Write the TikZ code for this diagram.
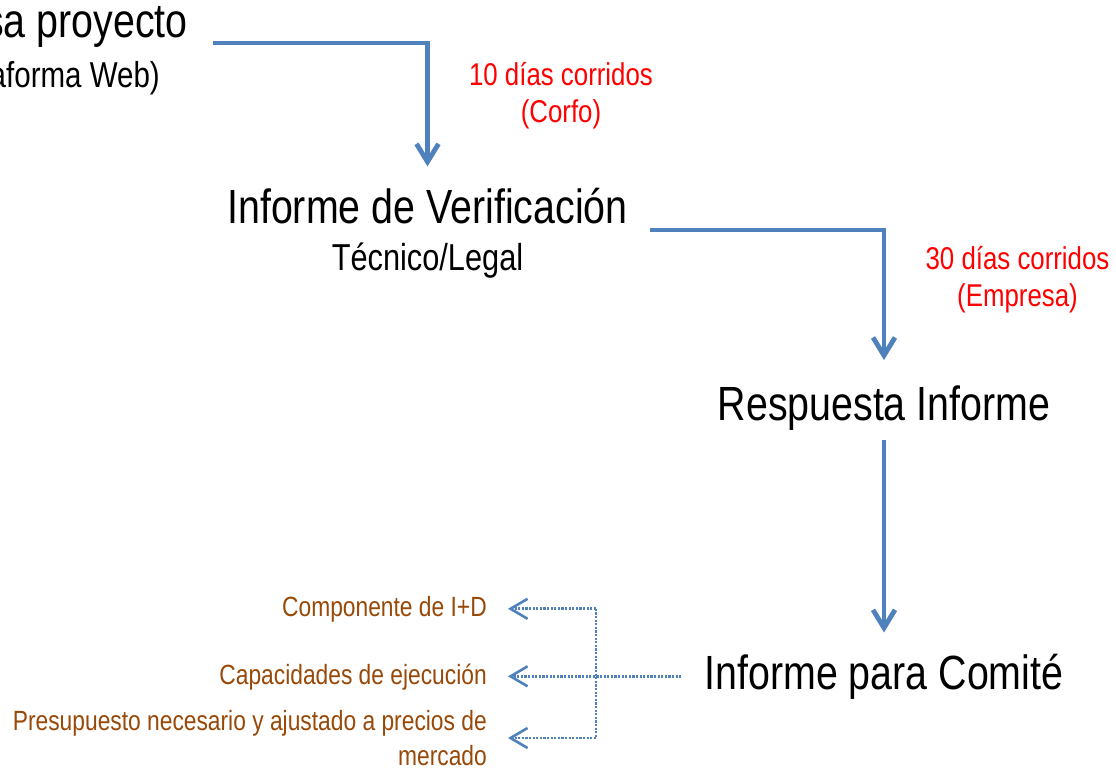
\documentclass[tikz,border=0pt]{standalone}
\usepackage{fontspec}
\setmainfont{Liberation Sans}[FakeStretch=0.82]
\usetikzlibrary{arrows.meta}
\definecolor{lineblue}{HTML}{4F81BD}
\definecolor{txtred}{HTML}{FF0000}
\definecolor{txtbrown}{HTML}{984807}
\begin{document}
\begin{tikzpicture}[x=1pt,y=-1pt,
  bigtxt/.style={font=\fontsize{48}{57}\selectfont, inner sep=0pt},
  midtxt/.style={font=\fontsize{37.5}{45}\selectfont, inner sep=0pt},
  redtxt/.style={font=\fontsize{31.5}{37}\selectfont, text=txtred, align=center, inner sep=0pt},
  browntxt/.style={font=\fontsize{27.8}{35}\selectfont, text=txtbrown, align=right, inner sep=0pt},
  mainarrow/.style={draw=lineblue, line width=4.8pt, -{Straight Barb[length=18pt,width=22pt,line width=4.8pt]}},
  dotarrow/.style={draw=lineblue, line width=2.8pt, dash pattern=on 2.2pt off 1.4pt, -{Straight Barb[length=17pt,width=20pt,line width=2.6pt]}},
  dotline/.style={draw=lineblue, line width=2.8pt, dash pattern=on 2.2pt off 1.4pt}
]
\useasboundingbox (0,0) rectangle (1116,770);
\clip (0,0) rectangle (1116,770);
\node[bigtxt, anchor=base east] (ingresa) at (188,38) {Ingresa proyecto};
\node[midtxt, font=\fontsize{36}{43}\selectfont, anchor=base east] (plataforma) at (160,88) {(Plataforma Web)};
\node[bigtxt, anchor=base] (verif) at (427.5,223) {Informe de Verificación};
\node[midtxt, anchor=base] (tecnico) at (427.5,270) {Técnico/Legal};
\node[bigtxt, anchor=base] (resp) at (884,420) {Respuesta Informe};
\node[bigtxt, anchor=base] (comite) at (884,689) {Informe para Comité};
\node[redtxt] (plazo1) at (561,95.5) {10 días corridos\\(Corfo)};
\node[redtxt] (plazo2) at (1017.5,280) {30 días corridos\\(Empresa)};
\node[browntxt, anchor=base east] (compon) at (487,616) {Componente de I+D};
\node[browntxt, anchor=base east] (capac) at (487,684) {Capacidades de ejecución};
\node[browntxt, anchor=east] (presu) at (487,738) {Presupuesto necesario y ajustado a precios de\\mercado};
\coordinate (s1) at (213,43);
\coordinate (s2) at (650,230);
\coordinate (jn) at (596,675);
\draw[mainarrow, shorten >=21pt] (s1) -| (verif.north);
\draw[mainarrow, shorten >=25pt] (s2) -| (resp.north);
\draw[mainarrow, shorten <=10pt, shorten >=21pt] (resp.south) -- (comite.north);
\draw[dotarrow, shorten <=23pt, shorten >=21pt] (comite.west) -- (comite.west -| capac.east);
\draw[dotline] (jn |- compon.east) -- (jn |- presu.east);
\draw[dotarrow, shorten >=21pt] (jn |- compon.east) -- (compon.east);
\draw[dotarrow, shorten >=21pt] (jn |- presu.east) -- (presu.east);
\end{tikzpicture}
\end{document}
